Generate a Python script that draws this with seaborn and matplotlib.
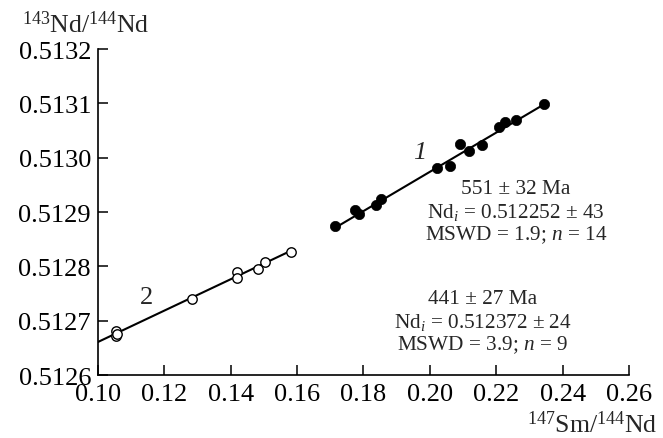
import numpy as np
import pandas as pd
import matplotlib
matplotlib.use("Agg")
import matplotlib.pyplot as plt
import seaborn as sns

# Series 1 (filled circles)
sm1 = [0.2344, 0.2259, 0.2227, 0.2207, 0.2158, 0.2119, 0.2091, 0.2060, 0.2020,
       0.1852, 0.1839, 0.1774, 0.1786, 0.1713]
nd1 = [0.513099, 0.513070, 0.5130665, 0.5130573, 0.5130241, 0.513013, 0.5130245,
       0.512984, 0.5129807, 0.512924, 0.5129136, 0.5129044, 0.5128965, 0.5128739]
# Series 2 (open circles)
sm2 = [0.1581, 0.1504, 0.1482, 0.1418, 0.1418, 0.1282, 0.1055, 0.1053, 0.1057]
nd2 = [0.512826, 0.5128087, 0.5127952, 0.5127902, 0.5127786, 0.5127394,
       0.5126805, 0.5126724, 0.5126760]

# Isochron fits
slope1, icpt1 = 0.003610, 0.512252
slope2, icpt2 = 0.002888, 0.512372
fit1_x = [0.1713, 0.2344]
fit2_x = [0.100, 0.1581]

xticks = [0.10, 0.12, 0.14, 0.16, 0.18, 0.20, 0.22, 0.24, 0.26]
yticks = [0.5126, 0.5127, 0.5128, 0.5129, 0.5130, 0.5131, 0.5132]

labels1 = ["551 ± 32 Ma", r"Nd$_{i}$ = 0.512252 ± 43", r"MSWD = 1.9; $n$ = 14"]
labels2 = ["441 ± 27 Ma", r"Nd$_{i}$ = 0.512372 ± 24", r"MSWD = 3.9; $n$ = 9"]

sns.set_style("ticks")
plt.rcParams["font.family"] = ["Liberation Serif", "DejaVu Serif"]
plt.rcParams["mathtext.fontset"] = "custom"
plt.rcParams["mathtext.rm"] = "Liberation Serif"
plt.rcParams["mathtext.it"] = "Liberation Serif:italic"

fig = plt.figure(figsize=(6.63, 4.39), dpi=100)
ax = fig.add_axes([0.1478, 0.1435, 0.8009, 0.7425])

d1 = pd.DataFrame({"x": sm1, "y": nd1})
d2 = pd.DataFrame({"x": sm2, "y": nd2})
l1 = pd.DataFrame({"x": fit1_x, "y": [icpt1 + slope1 * v for v in fit1_x]})
l2 = pd.DataFrame({"x": fit2_x, "y": [icpt2 + slope2 * v for v in fit2_x]})

sns.lineplot(data=l1, x="x", y="y", color="black", lw=1.5, ax=ax, zorder=2)
sns.lineplot(data=l2, x="x", y="y", color="black", lw=1.5, ax=ax, zorder=2)
sns.scatterplot(data=d1, x="x", y="y", color="black", s=55, edgecolor="black",
                linewidth=0.5, ax=ax, zorder=3)
sns.scatterplot(data=d2, x="x", y="y", facecolor="white", s=46, edgecolor="black",
                linewidth=1.0, ax=ax, zorder=3)

ax.set_xlim(0.10, 0.26)
ax.set_ylim(0.5126, 0.5132)
ax.set_xticks(xticks)
ax.set_xticklabels([f"{v:.2f}" for v in xticks])
ax.set_yticks(yticks)
ax.set_yticklabels([f"{v:.4f}" for v in yticks])
ax.tick_params(direction="in", length=7, width=1.1, labelsize=19, colors="black")
ax.tick_params(axis="x", pad=6)
ax.tick_params(axis="y", pad=5)
for s in ["top", "right"]:
    ax.spines[s].set_visible(False)
for s in ["left", "bottom"]:
    ax.spines[s].set_linewidth(1.2)
    ax.spines[s].set_color("black")
ax.set_xlabel("")
ax.set_ylabel("")

fig.text(0.033, 0.925, r"$^{143}$Nd/$^{144}$Nd", fontsize=18.5, ha="left", va="baseline")
fig.text(0.991, 0.015, r"$^{147}$Sm/$^{144}$Nd", fontsize=18.5, ha="right", va="baseline")

ax.text(0.197, 0.513011, "1", style="italic", fontsize=19, ha="center", va="center")
ax.text(0.1147, 0.512744, "2", fontsize=19, ha="center", va="center")

tk = dict(fontsize=15.3, ha="center", va="center")
x1 = 0.10 + (516 - 98.5) / 3315
for i, t in enumerate(labels1):
    yy = 0.5126 + (376 - (190 + 22.7 * i)) / 543000
    ax.text(x1, yy, t, **tk)
x2 = 0.10 + (483 - 98.5) / 3315
for i, t in enumerate(labels2):
    yy = 0.5126 + (376 - (300 + 22.7 * i)) / 543000
    ax.text(x2, yy, t, **tk)

fig.savefig("out.png", dpi=100)
